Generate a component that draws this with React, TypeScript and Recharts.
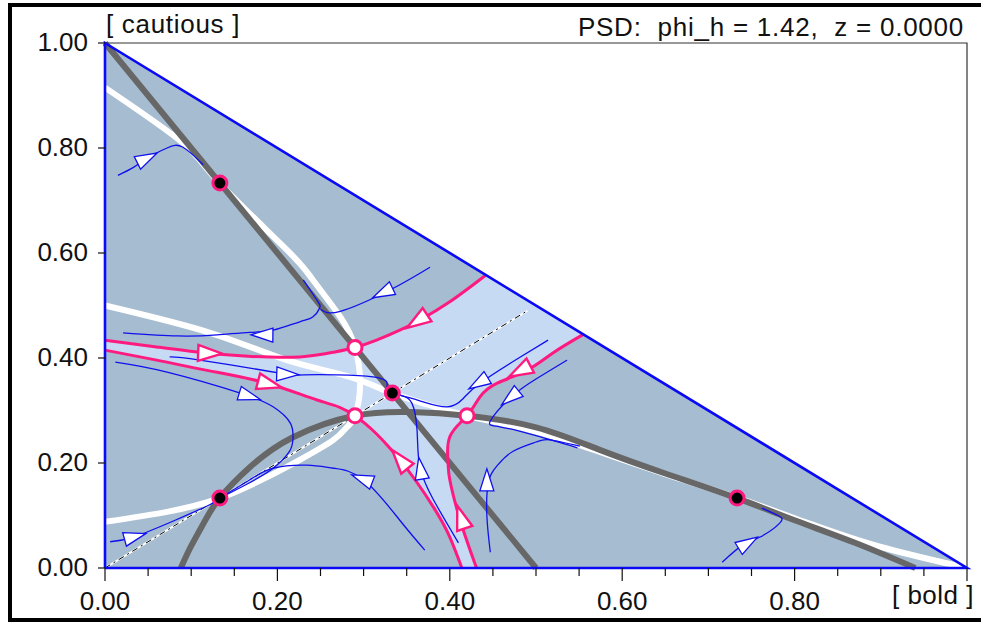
import { ComposedChart, Area, Line, Scatter, XAxis, YAxis } from 'recharts';

type Pair = [number, number];

const xTicks = [0, 0.05, 0.1, 0.15, 0.2, 0.25, 0.3, 0.35, 0.4, 0.45, 0.5, 0.55, 0.6, 0.65, 0.7, 0.75, 0.8, 0.85, 0.9, 0.95, 1];
const xMajorTicks = [0, 0.2, 0.4, 0.6, 0.8, 1];
const xLabelTicks = [0, 0.2, 0.4, 0.6, 0.8];
const yTicks = [0, 0.2, 0.4, 0.6, 0.8, 1];

const simplexEdges: Pair[] = [[0, 0], [0, 1], [1, 0], [0, 0]];
const plotFrame: Pair[] = [[0, 1], [1, 1], [1, 0]];
const diagonal: Pair[] = [[0, 0], [0.49, 0.49]];

// isoclines
const grayLine: Pair[] = [[0, 1], [0.5, 0]];
const grayArc: Pair[] = [
  [0.088, 0], [0.1, 0.042], [0.116, 0.09], [0.133, 0.133], [0.168, 0.192], [0.218, 0.249],
  [0.29, 0.29], [0.355, 0.297], [0.42, 0.29], [0.5, 0.268], [0.574, 0.225], [0.65, 0.18],
  [0.733, 0.133], [0.8, 0.091], [0.87, 0.048], [0.94, 0],
];
const whiteCurveA: Pair[] = [
  [0, 0.915], [0.09, 0.81], [0.133, 0.733], [0.211, 0.606], [0.241, 0.549], [0.273, 0.478],
  [0.29, 0.42], [0.296, 0.352], [0.29, 0.29], [0.281, 0.269], [0.265, 0.244], [0.226, 0.206],
  [0.188, 0.173], [0.133, 0.133], [0.072, 0.107], [0, 0.088],
];
const whiteCurveB: Pair[] = [
  [0, 0.5], [0.122, 0.448], [0.211, 0.396], [0.284, 0.364], [0.333, 0.333], [0.377, 0.31],
  [0.42, 0.29], [0.5, 0.26], [0.574, 0.221], [0.65, 0.179], [0.733, 0.134], [0.82, 0.083],
  [0.9, 0.04], [1, 0],
];

// separatrices (pink)
const sepLeftUpper: Pair[] = [[0, 0.434], [0.06, 0.421], [0.114, 0.41], [0.17, 0.403], [0.226, 0.402], [0.265, 0.411], [0.29, 0.42]];
const sepUpperRight: Pair[] = [[0.29, 0.42], [0.315, 0.434], [0.342, 0.453], [0.365, 0.472], [0.4, 0.507], [0.442, 0.558]];
const sepLeftLower: Pair[] = [[0, 0.415], [0.06, 0.396], [0.12, 0.376], [0.188, 0.352], [0.246, 0.32], [0.29, 0.29]];
const sepBottomLeft: Pair[] = [[0.29, 0.29], [0.342, 0.206], [0.381, 0.116], [0.4, 0.059], [0.414, 0]];
const sepBottomRight: Pair[] = [[0.431, 0], [0.412, 0.091], [0.4, 0.168], [0.398, 0.2], [0.4, 0.25], [0.42, 0.29]];
const sepRightUpper: Pair[] = [[0.42, 0.29], [0.435, 0.326], [0.455, 0.352], [0.49, 0.377], [0.52, 0.41], [0.555, 0.445]];

// trajectories (thin blue)
const traj1: Pair[] = [[0.015, 0.748], [0.033, 0.763], [0.049, 0.781], [0.072, 0.8], [0.09, 0.802], [0.114, 0.768]];
const traj2: Pair[] = [[0.377, 0.573], [0.331, 0.53], [0.273, 0.489], [0.25, 0.493]];
const traj3: Pair[] = [
  [0.23, 0.549], [0.246, 0.51], [0.249, 0.495], [0.241, 0.478], [0.226, 0.469], [0.195, 0.453],
  [0.168, 0.449], [0.13, 0.444], [0.084, 0.442], [0.021, 0.448],
];
const traj4: Pair[] = [[0.075, 0.402], [0.11, 0.396], [0.203, 0.371], [0.23, 0.368], [0.311, 0.364], [0.327, 0.345], [0.333, 0.333]];
const traj5: Pair[] = [
  [0.012, 0.392], [0.072, 0.373], [0.157, 0.333], [0.195, 0.307], [0.215, 0.276], [0.218, 0.245],
  [0.214, 0.222], [0.195, 0.19], [0.165, 0.16], [0.133, 0.133],
];
const traj6: Pair[] = [[0.371, 0.034], [0.342, 0.091], [0.3, 0.168], [0.265, 0.19], [0.234, 0.196], [0.195, 0.19], [0.168, 0.168], [0.133, 0.133]];
const traj7: Pair[] = [[0.006, 0.05], [0.033, 0.059], [0.08, 0.09], [0.122, 0.121], [0.133, 0.133]];
const traj8: Pair[] = [[0.41, 0.048], [0.381, 0.13], [0.365, 0.195], [0.362, 0.263], [0.356, 0.314], [0.345, 0.328], [0.333, 0.333]];
const traj9: Pair[] = [[0.447, 0.03], [0.443, 0.1], [0.445, 0.165], [0.455, 0.195], [0.473, 0.222], [0.5, 0.24], [0.516, 0.244], [0.551, 0.232]];
const traj10: Pair[] = [[0.536, 0.396], [0.5, 0.36], [0.47, 0.324], [0.447, 0.28], [0.458, 0.269], [0.5, 0.252], [0.548, 0.229]];
const traj11: Pair[] = [[0.514, 0.434], [0.48, 0.4], [0.435, 0.352], [0.415, 0.322], [0.397, 0.307], [0.37, 0.316], [0.354, 0.324], [0.333, 0.333]];
const traj12: Pair[] = [[0.716, 0.011], [0.74, 0.044], [0.76, 0.059], [0.783, 0.086], [0.781, 0.1], [0.762, 0.114]];

// equilibria
const stableNodes: Pair[] = [[0.1333, 0.7333], [0.3333, 0.3333], [0.1333, 0.1333], [0.7333, 0.1333]];
const saddles: Pair[] = [[0.29, 0.42], [0.29, 0.29], [0.42, 0.29]];

// arrows: x, y, dx, dy
const blueArrows: number[][] = [
  [0.049, 0.781, 0.023, 0.019],
  [0.322, 0.524, -0.05, -0.04],
  [0.182, 0.444, -1, 0.02],
  [0.212, 0.369, 1, -0.06],
  [0.168, 0.327, 0.04, -0.02],
  [0.298, 0.17, -0.04, 0.025],
  [0.035, 0.06, 0.04, 0.018],
  [0.366, 0.19, -0.004, 0.04],
  [0.443, 0.168, 0, 1],
  [0.47, 0.324, -0.03, -0.04],
  [0.433, 0.352, -0.04, -0.04],
  [0.746, 0.048, 0.02, 0.02],
];
const pinkArrows: number[][] = [
  [0.122, 0.409, 1, -0.06],
  [0.191, 0.35, 0.05, -0.022],
  [0.362, 0.47, -0.025, -0.027],
  [0.481, 0.375, -0.03, -0.026],
  [0.342, 0.207, -0.03, 0.06],
  [0.413, 0.097, -0.012, 0.06],
];

const W = 981;
const H = 623;
const M = { top: 43, right: 14, bottom: 25, left: 0 };
const PLOT_W = 862;
const PLOT_H = 525;

const FILL_DARK = '#a6bcd0';
const FILL_LIGHT = '#c6daf3';
const GRAY = '#676767';
const PINK = '#ff1a80';
const BLUE = '#1010ee';
const FONT = '"Liberation Sans", Arial, sans-serif';

const pts = (a: Pair[]) => a.map(([x, y]) => ({ x, y }));
const rev = (a: Pair[]) => [...a].reverse();

const basinPolygon: Pair[] = [
  ...rev(sepBottomLeft),
  ...rev(sepLeftLower).slice(1),
  ...sepLeftUpper,
  ...sepUpperRight.slice(1),
  ...rev(sepRightUpper),
  ...rev(sepBottomRight).slice(1),
  [0.414, 0],
];

const arrowPts = (a: number[][]) => a.map(([x, y, dx, dy]) => ({ x, y, dx, dy }));

const isIn = (list: number[], v: number) => list.some((t) => Math.abs(t - v) < 1e-6);

function ArrowHead(props: any) {
  const { cx, cy, payload, color, len, half, sw } = props;
  if (cx == null || cy == null) return null;
  const ang = Math.atan2(-payload.dy * PLOT_H, payload.dx * PLOT_W);
  const c = Math.cos(ang);
  const s = Math.sin(ang);
  const tip = [cx + (c * len) / 2, cy + (s * len) / 2];
  const bx = cx - (c * len) / 2;
  const by = cy - (s * len) / 2;
  const b1 = [bx - s * half, by + c * half];
  const b2 = [bx + s * half, by - c * half];
  return (
    <polygon
      points={`${tip[0]},${tip[1]} ${b1[0]},${b1[1]} ${b2[0]},${b2[1]}`}
      fill="#ffffff"
      stroke={color}
      strokeWidth={sw}
    />
  );
}

function Node(props: any) {
  const { cx, cy, fill } = props;
  if (cx == null || cy == null) return null;
  return <circle cx={cx} cy={cy} r={7} fill={fill} stroke={PINK} strokeWidth={3} />;
}

function XTick(props: any) {
  const { x, y, payload } = props;
  const v = payload.value;
  const major = isIn(xMajorTicks, v);
  return (
    <g>
      <line x1={x} y1={y} x2={x} y2={y + (major ? 13 : 8)} stroke="#111" strokeWidth={1.2} />
      {isIn(xLabelTicks, v) && (
        <text x={x} y={y + 42} textAnchor="middle" fontSize={26} fontFamily={FONT} fill="#111">
          {v.toFixed(2)}
        </text>
      )}
    </g>
  );
}

function YTick(props: any) {
  const { x, y, payload } = props;
  return (
    <g>
      <line x1={x - 7} y1={y} x2={x} y2={y} stroke="#111" strokeWidth={1.2} />
      <text x={x - 17} y={y + 8} textAnchor="end" fontSize={26} fontFamily={FONT} fill="#111">
        {payload.value.toFixed(2)}
      </text>
    </g>
  );
}

const curve = (key: string, data: Pair[], stroke: string, width: number, type: any = 'natural', dash?: string) => (
  <Line
    key={key}
    data={pts(data)}
    dataKey="y"
    type={type}
    stroke={stroke}
    strokeWidth={width}
    strokeDasharray={dash}
    dot={false}
    activeDot={false}
    isAnimationActive={false}
    strokeLinecap="butt"
  />
);

export default function App() {
  const trajectories = [traj1, traj2, traj3, traj4, traj5, traj6, traj7, traj8, traj9, traj10, traj11, traj12];
  const separatrices = [
    [...sepLeftUpper, ...sepUpperRight.slice(1)],
    [...sepLeftLower, ...sepBottomLeft.slice(1)],
    [...sepBottomRight, ...sepRightUpper.slice(1)],
  ] as Pair[][];
  return (
    <div style={{ position: 'absolute', left: 0, top: 0, width: W, height: H, overflow: 'hidden', background: '#fff' }}>
      <div
        style={{
          position: 'absolute',
          left: 8,
          top: 3,
          width: W + 20,
          height: 619,
          border: '4px solid #000',
          boxSizing: 'border-box',
        }}
      />
      <ComposedChart width={W} height={H} margin={M} style={{ position: 'absolute', left: 0, top: 0 }}>
        <XAxis
          type="number"
          dataKey="x"
          domain={[0, 1]}
          ticks={xTicks}
          interval={0}
          height={30}
          axisLine={false}
          tickLine={false}
          tickSize={0}
          tickMargin={0}
          tick={<XTick />}
        />
        <YAxis
          type="number"
          dataKey="y"
          domain={[0, 1]}
          ticks={yTicks}
          interval={0}
          width={105}
          axisLine={false}
          tickLine={false}
          tickSize={0}
          tickMargin={0}
          tick={<YTick />}
        />
        <Area data={pts([[0, 1], [1, 0]])} dataKey="y" type="linear" fill={FILL_DARK} fillOpacity={1} stroke="none" baseValue={0} isAnimationActive={false} activeDot={false} />
        <Area data={pts(basinPolygon)} dataKey="y" type="linear" fill={FILL_LIGHT} fillOpacity={1} stroke="none" baseValue={0} isAnimationActive={false} activeDot={false} />
        {curve('diag-w', diagonal, '#ffffff', 2, 'linear')}
        {curve('diag-k', diagonal, '#000000', 1, 'linear', '6 4 2 4')}
        {curve('whiteA', whiteCurveA, '#ffffff', 6)}
        {curve('whiteB', whiteCurveB, '#ffffff', 6)}
        {curve('grayLine', grayLine, GRAY, 6, 'linear')}
        {curve('grayArc', grayArc, GRAY, 6)}
        {trajectories.map((t, i) => curve(`traj${i}`, t, BLUE, 1.3))}
        {separatrices.map((s, i) => curve(`sep${i}`, s, PINK, 3))}
        {curve('frame', plotFrame, '#333333', 1.2, 'linear')}
        {curve('edges', simplexEdges, '#0a0af5', 2.6, 'linear')}
        <Scatter data={arrowPts(blueArrows)} dataKey="y" isAnimationActive={false} shape={(p: any) => <ArrowHead {...p} color={BLUE} len={22} half={7} sw={1.3} />} />
        <Scatter data={arrowPts(pinkArrows)} dataKey="y" isAnimationActive={false} shape={(p: any) => <ArrowHead {...p} color={PINK} len={24} half={8} sw={2.4} />} />
        <Scatter data={pts(stableNodes)} dataKey="y" isAnimationActive={false} shape={(p: any) => <Node {...p} fill="#000000" />} />
        <Scatter data={pts(saddles)} dataKey="y" isAnimationActive={false} shape={(p: any) => <Node {...p} fill="#ffffff" />} />
      </ComposedChart>
      <svg width={W} height={H} style={{ position: 'absolute', left: 0, top: 0, pointerEvents: 'none' }}>
        <text x={106} y={33} fontSize={26} letterSpacing={0.7} fontFamily={FONT} fill="#111" style={{ whiteSpace: 'pre' }}>
          [ cautious ]
        </text>
        <text x={964} y={36} textAnchor="end" fontSize={26} letterSpacing={0.75} fontFamily={FONT} fill="#111" style={{ whiteSpace: 'pre' }}>
          {'PSD:  phi_h = 1.42,  z = 0.0000'}
        </text>
        <text x={974} y={604} textAnchor="end" fontSize={26} letterSpacing={0.5} fontFamily={FONT} fill="#111" style={{ whiteSpace: 'pre' }}>
          [ bold ]
        </text>
      </svg>
    </div>
  );
}
